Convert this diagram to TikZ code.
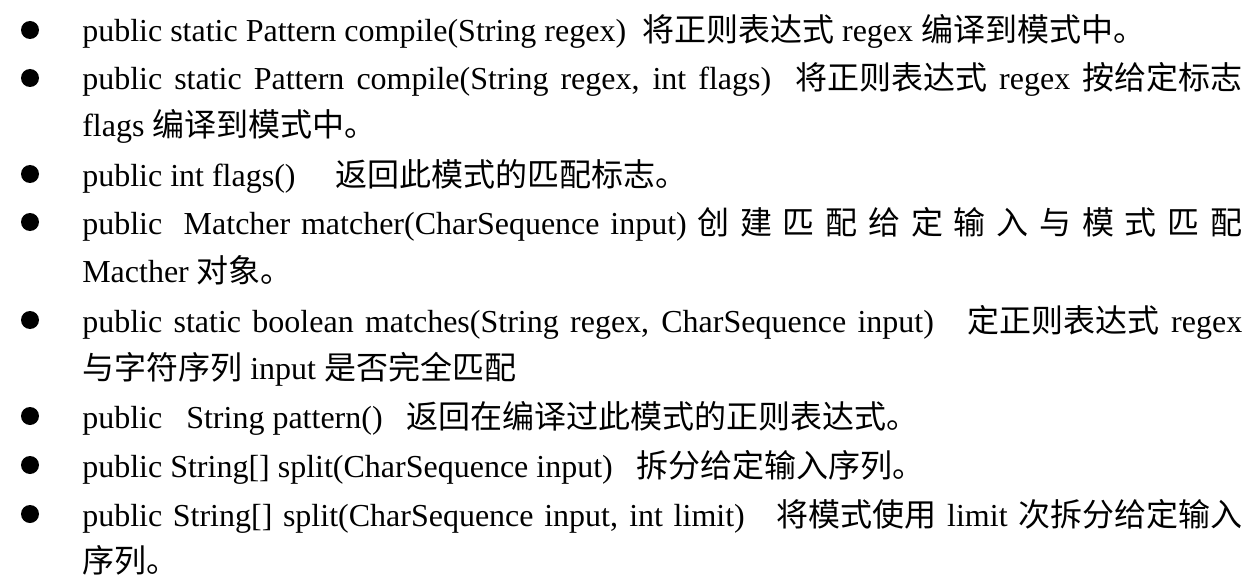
\documentclass[tikz,border=0pt]{standalone}
\usepackage{fontspec}
\setmainfont{Liberation Serif}
\newfontfamily\cjk{Noto Sans CJK SC}
\newcommand{\C}[1]{{\cjk #1}}
\begin{document}
\begin{tikzpicture}[x=0.75pt,y=-0.75pt,
  txt/.style={anchor=base west,inner sep=0pt,font=\fontsize{24}{28}\selectfont},
  bul/.style={circle,fill=black,inner sep=0pt,minimum size=13.5pt}]
\useasboundingbox (0,0) rectangle (1252,581);
\foreach \y [count=\i] in {30,78,174,222,320,416,465,514} \node[bul] (b\i) at (30,\y) {};
\newcommand{\J}[1]{\makebox[870pt][s]{#1}}
\node[txt] (l1) at (82,42) {public static Pattern compile(String regex)\ \ \C{将正则表达式} regex \C{编译到模式中。}};
\node[txt] (l2) at (82,90) {\J{public static Pattern compile(String regex, int flags)\ \ \C{将正则表达式} regex \C{按给定标志}}};
\node[txt] (l3) at (82,137) {flags \C{编译到模式中。}};
\node[txt] (l4) at (82,186) {public int flags()\hspace{30pt}\C{返回此模式的匹配标志。}};
\node[txt] (l5) at (82,234) {\J{public \ Matcher matcher(CharSequence input) \C{创} \C{建} \C{匹} \C{配} \C{给} \C{定} \C{输} \C{入} \C{与} \C{模} \C{式} \C{匹} \C{配}}};
\node[txt] (l6) at (82,282) {Macther \C{对象。}};
\node[txt] (l7) at (82,332) {\J{public static boolean matches(String regex, CharSequence input)\ \ \ \C{定正则表达式} regex}};
\node[txt] (l8) at (82,379) {\C{与字符序列} input \C{是否完全匹配}};
\node[txt] (l9) at (82,428) {public\ \ \ String pattern()\ \ \ \C{返回在编译过此模式的正则表达式。}};
\node[txt] (l10) at (82,477) {public String[] split(CharSequence input)\ \ \ \C{拆分给定输入序列。}};
\node[txt] (l11) at (82,526) {\J{public String[] split(CharSequence input, int limit)\ \ \ \C{将模式使用} limit \C{次拆分给定输入}}};
\node[txt] (l12) at (82,572) {\C{序列。}};
\end{tikzpicture}
\end{document}
